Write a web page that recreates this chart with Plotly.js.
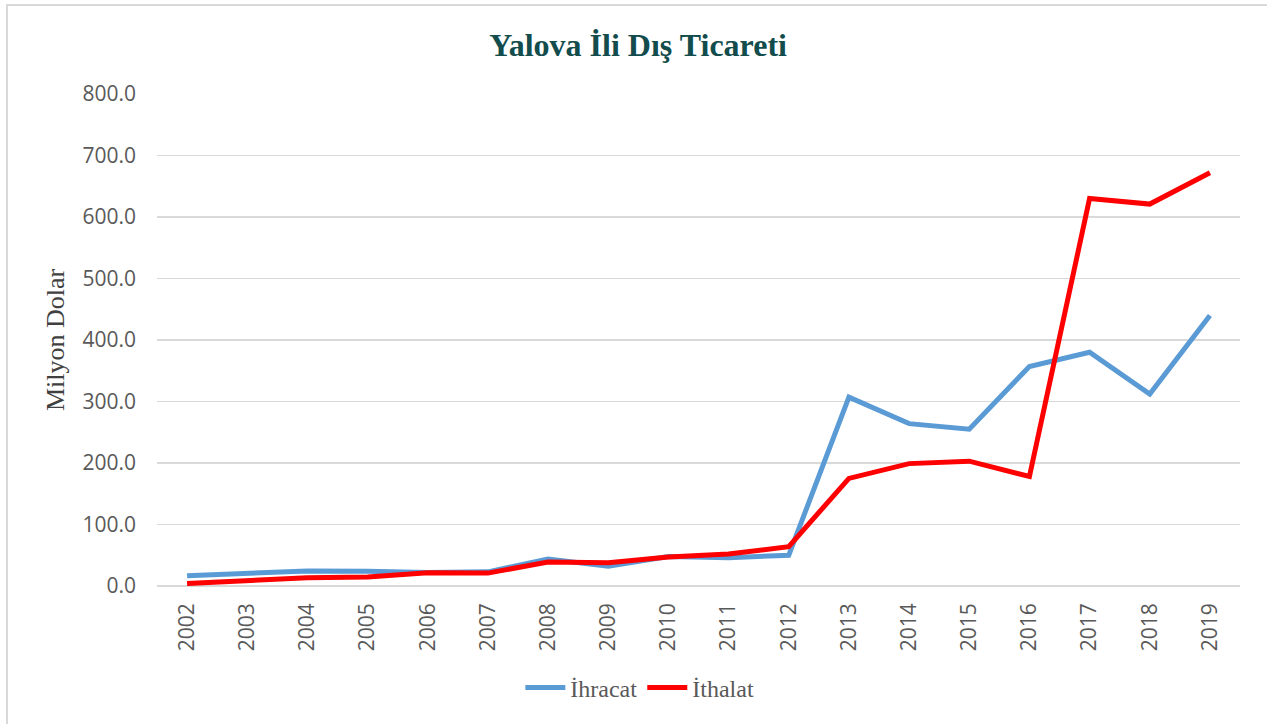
<!DOCTYPE html>
<html>
<head>
<meta charset="utf-8">
<script src="https://cdn.plot.ly/plotly-3.0.1.min.js"></script>
<style>
html,body{margin:0;padding:0;background:#fff;overflow:hidden;}
#chart{width:1267px;height:724px;position:absolute;left:0;top:0;}
#frame{position:absolute;left:6px;top:4px;width:1300px;height:800px;border-left:2px solid #d9d9d9;border-top:2px solid #d9d9d9;pointer-events:none;}
</style>
</head>
<body>
<div id="chart"></div>
<div id="frame"></div>
<script>
const years = ['2002','2003','2004','2005','2006','2007','2008','2009','2010','2011','2012','2013','2014','2015','2016','2017','2018','2019'];
const ihracat = [16.5, 20, 24.5, 24, 22, 23, 44, 32, 48, 46, 50, 307, 264, 255, 357, 380, 312, 440];
const ithalat = [4, 8, 13.5, 14.5, 21.5, 21, 39, 38, 47, 52, 64, 175, 199, 203, 178, 630, 621, 672];
const yTicks = [0, 100, 200, 300, 400, 500, 600, 700, 800];
const yTickText = yTicks.map(v => v.toFixed(1));

const traces = [
  {x: years, y: ihracat, name: 'İhracat', type: 'scatter', mode: 'lines',
   line: {color: '#5B9BD5', width: 5}},
  {x: years, y: ithalat, name: 'İthalat', type: 'scatter', mode: 'lines',
   line: {color: '#FF0000', width: 5}}
];

const layout = {
  width: 1267, height: 724,
  margin: {l: 157, r: 27, t: 94, b: 138},
  paper_bgcolor: '#ffffff', plot_bgcolor: '#ffffff',
  title: {text: '<b>Yalova İli Dış Ticareti</b>',
    font: {family: 'Liberation Serif, serif', size: 32, color: '#124C4C'},
    xref: 'container', x: 0.5036, xanchor: 'center',
    yref: 'container', y: 0.938, yanchor: 'middle'},
  showlegend: true,
  legend: {orientation: 'h', xref: 'container', x: 0.505, xanchor: 'center',
    yref: 'container', y: 0.05, yanchor: 'middle',
    font: {family: 'Liberation Serif, serif', size: 24, color: '#595959'},
    itemwidth: 40, tracegroupgap: 0},
  xaxis: {type: 'category', range: [-0.5, years.length - 0.5],
    showgrid: false, zeroline: false, showline: false,
    ticks: '', tickangle: -90, ticklabelstandoff: 12,
    tickfont: {family: 'Open Sans, sans-serif', size: 21, color: '#595959'},
    fixedrange: true},
  yaxis: {range: [0, 800], tickvals: yTicks, ticktext: yTickText,
    showgrid: true, gridcolor: '#d9d9d9', gridwidth: 1.5,
    zeroline: true, zerolinecolor: '#d9d9d9', zerolinewidth: 1.5,
    showline: false, ticks: '', ticklabelstandoff: 20,
    tickfont: {family: 'Open Sans, sans-serif', size: 21, color: '#595959'},
    title: {text: 'Milyon Dolar', standoff: 10,
      font: {family: 'Liberation Serif, serif', size: 26, color: '#404040'}},
    fixedrange: true}
};

Plotly.newPlot('chart', traces, layout, {displayModeBar: false, staticPlot: true});
</script>
</body>
</html>
